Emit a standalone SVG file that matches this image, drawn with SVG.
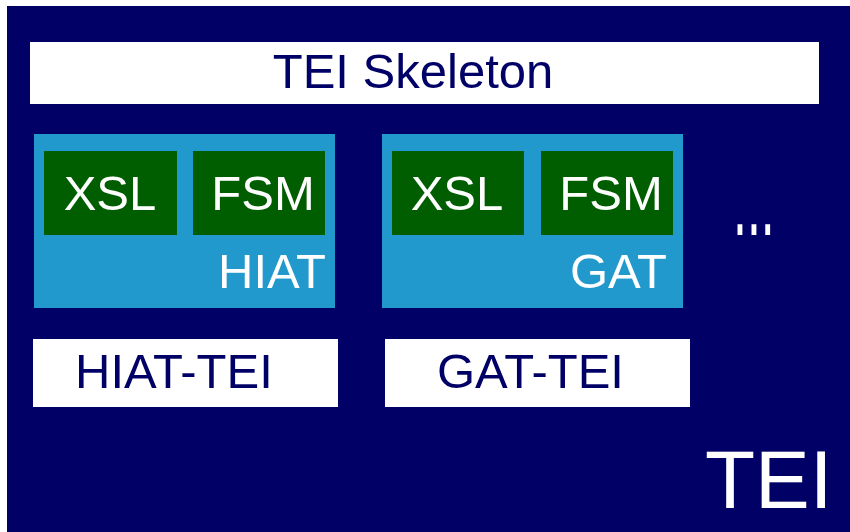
<svg xmlns="http://www.w3.org/2000/svg" width="850" height="532" viewBox="0 0 850 532">
<style>
text{font-family:"Liberation Sans",Arial,sans-serif;font-size:49px}
.w{fill:#ffffff}
.d{fill:#000066}
.lb{fill:#2299cc}
.g{fill:#005e00}
</style>
<rect width="850" height="532" fill="#ffffff"/>
<g id="tei">
<rect x="7" y="6" width="843" height="526" class="d"/>
<text x="705" y="508" class="w" style="font-size:82px">TEI</text>
</g>
<g id="skeleton">
<rect x="30" y="42" width="789" height="62" class="w"/>
<text x="413" y="88" class="d" text-anchor="middle">TEI Skeleton</text>
</g>
<g id="hiat">
<rect x="34" y="134" width="301" height="174" class="lb"/>
<text x="326" y="288" class="w" text-anchor="end">HIAT</text>
</g>
<g id="hiat-xsl">
<rect x="44" y="151" width="133" height="84" class="g"/>
<text x="110" y="210" class="w" text-anchor="middle">XSL</text>
</g>
<g id="hiat-fsm">
<rect x="193" y="151" width="132" height="84" class="g"/>
<text x="263" y="210" class="w" text-anchor="middle">FSM</text>
</g>
<g id="gat">
<rect x="382" y="134" width="301" height="174" class="lb"/>
<text x="667" y="288" class="w" text-anchor="end">GAT</text>
</g>
<g id="gat-xsl">
<rect x="392" y="151" width="132" height="84" class="g"/>
<text x="457" y="210" class="w" text-anchor="middle">XSL</text>
</g>
<g id="gat-fsm">
<rect x="541" y="151" width="132" height="84" class="g"/>
<text x="611" y="210" class="w" text-anchor="middle">FSM</text>
</g>
<g id="more">
<text class="w" transform="translate(733,235) scale(1,2)" style="font-size:50px">...</text>
</g>
<g id="hiat-tei">
<rect x="33" y="339" width="305" height="68" class="w"/>
<text x="75" y="388" class="d">HIAT-TEI</text>
</g>
<g id="gat-tei">
<rect x="385" y="339" width="305" height="68" class="w"/>
<text x="437" y="388" class="d">GAT-TEI</text>
</g>
<g id="connectors"></g>
</svg>
